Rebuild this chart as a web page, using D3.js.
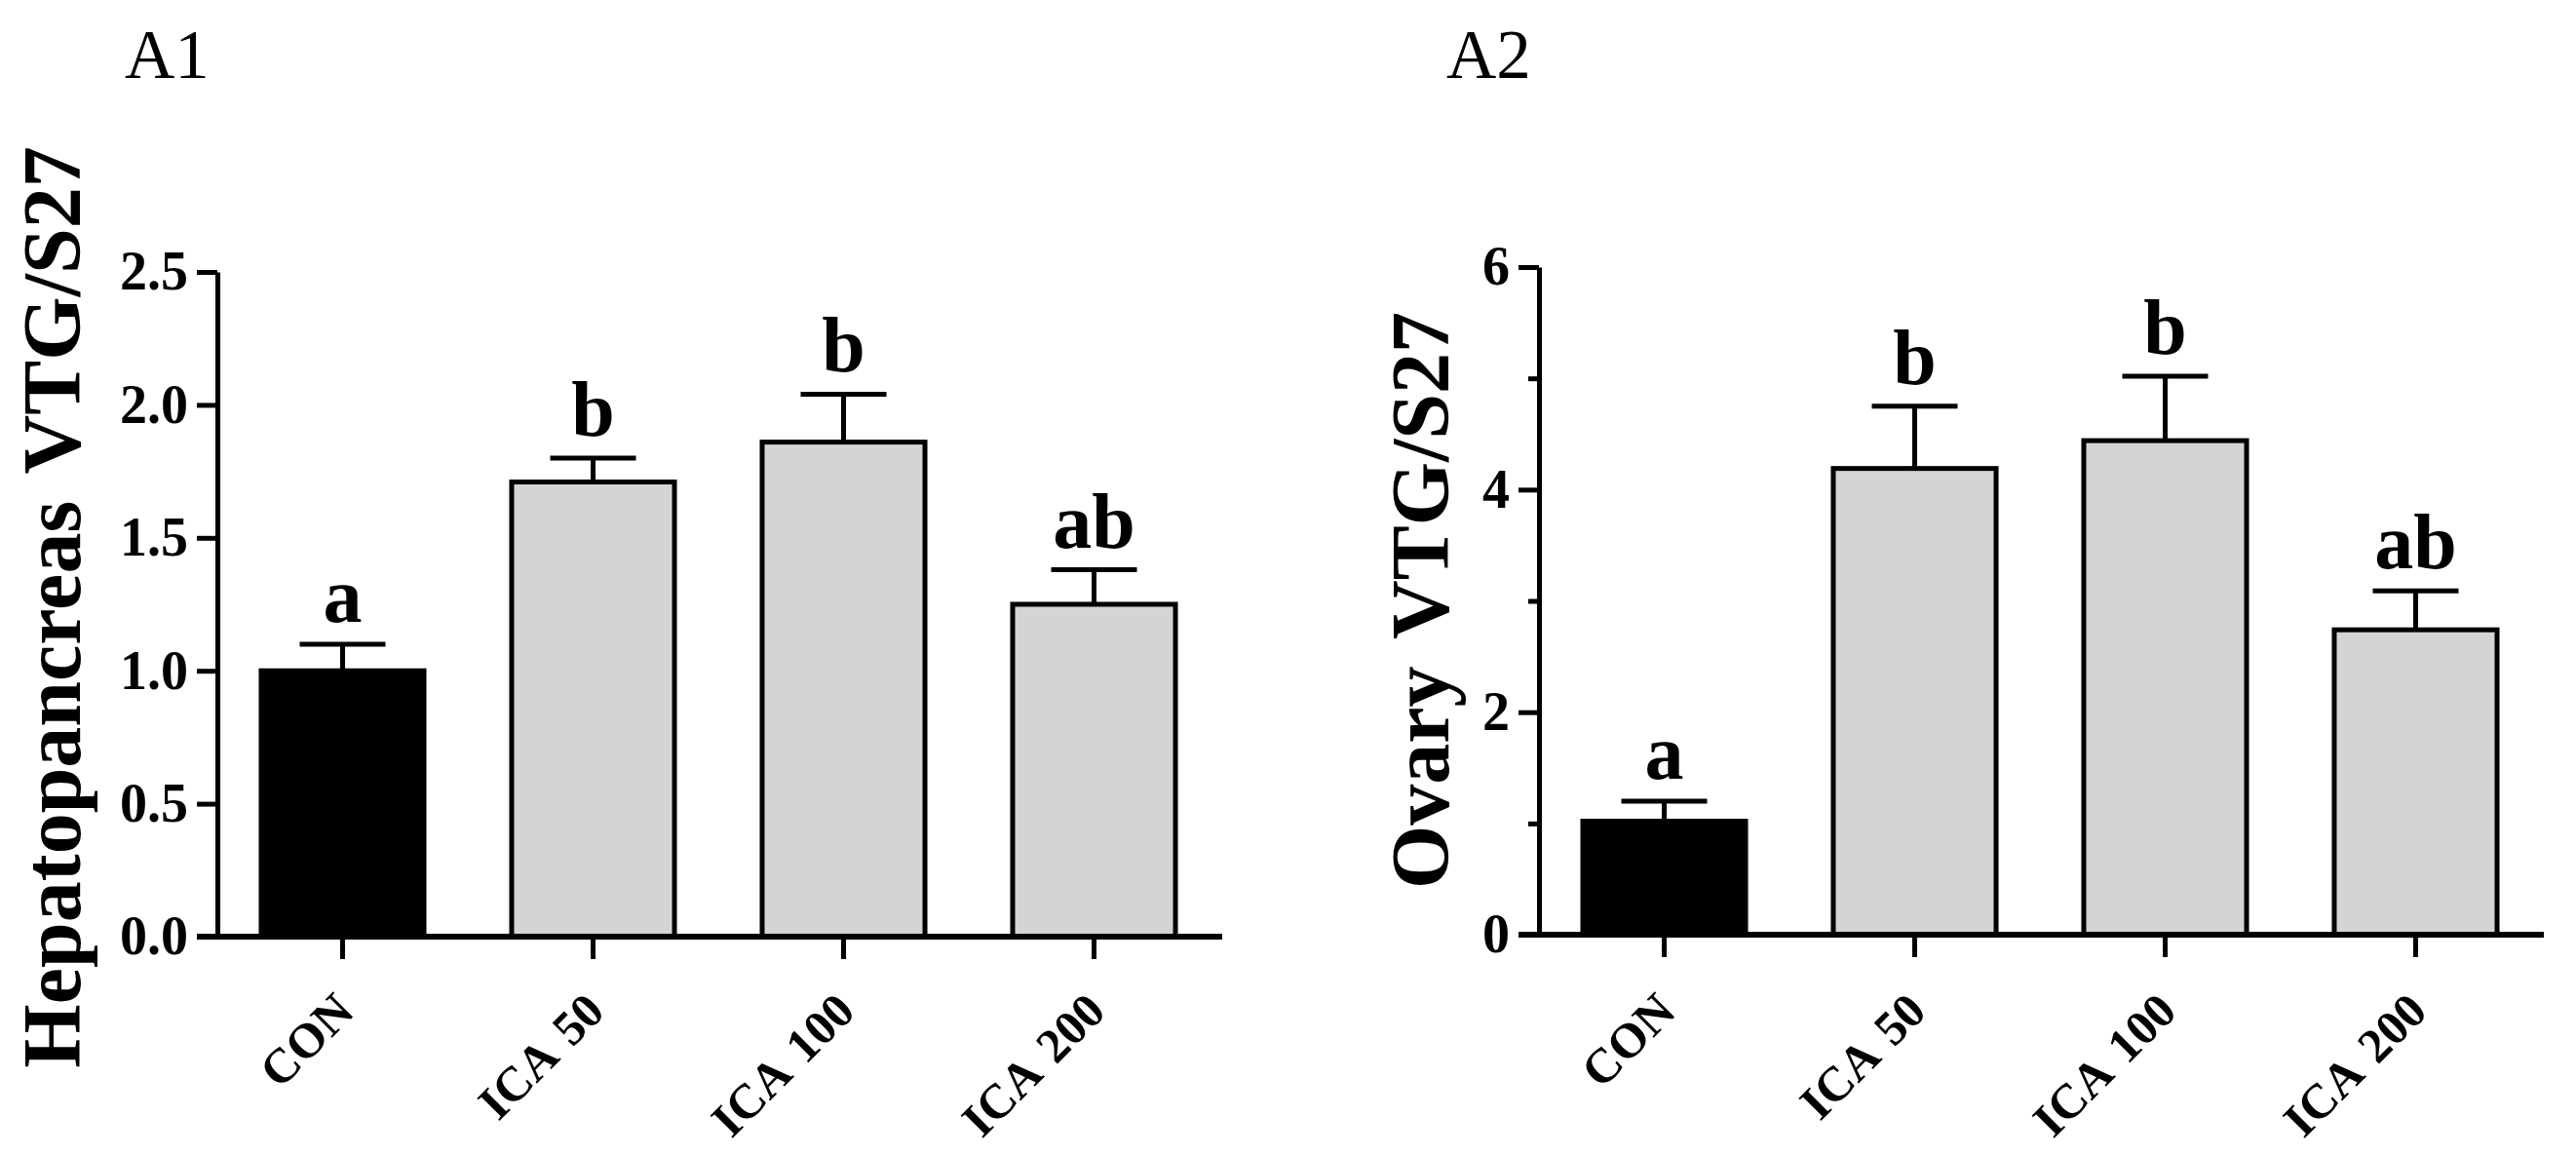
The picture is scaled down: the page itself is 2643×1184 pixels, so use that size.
<!DOCTYPE html>
<html>
<head>
<meta charset="utf-8">
<script src="https://cdnjs.cloudflare.com/ajax/libs/d3/7.8.5/d3.min.js"></script>
<style>
	body { margin: 0; background: #ffffff; }
	svg { display: block; }
</style>
</head>
<body>
<script>
	// groups shared by both panels
	var groups = [ "CON", "ICA 50", "ICA 100", "ICA 200" ];

	// A1 - hepatopancreas
	var hepatoMeans = [ 1.00, 1.71, 1.86, 1.25 ];
	var hepatoErrors = [ 0.10, 0.09, 0.18, 0.13 ];
	var hepatoLetters = [ "a", "b", "b", "ab" ];
	var hepatoTicks = [ 0, 0.5, 1.0, 1.5, 2.0, 2.5 ];

	// A2 - ovary
	var ovaryMeans = [ 1.02, 4.19, 4.44, 2.74 ];
	var ovaryErrors = [ 0.18, 0.56, 0.58, 0.35 ];
	var ovaryLetters = [ "a", "b", "b", "ab" ];
	var ovaryTicks = [ 0, 2, 4, 6 ];
	var ovaryMinorTicks = [ 1, 3, 5 ];

	var serif = "'Liberation Serif', 'Times New Roman', serif";
	var lineW = 5;

	var svg = d3.select("body").append("svg")//
	.attr("width", 2643)//
	.attr("height", 1184);

	drawPanel({
		label : "A1",
		labelX : 128,
		title : "Hepatopancreas VTG/S27",
		titleX : 82,
		titleY : 623,
		axisX : 223,
		axisEnd : 1251,
		yBottom : 961,
		yTop : 279,
		yMax : 2.5,
		ticks : hepatoTicks,
		minorTicks : [],
		format : d3.format(".1f"),
		means : hepatoMeans,
		errors : hepatoErrors,
		letters : hepatoLetters
	});

	drawPanel({
		label : "A2",
		labelX : 1484,
		title : "Ovary VTG/S27",
		titleX : 1486,
		titleY : 616,
		axisX : 1579,
		axisEnd : 2607,
		yBottom : 959,
		yTop : 274,
		yMax : 6,
		ticks : ovaryTicks,
		minorTicks : ovaryMinorTicks,
		format : d3.format("d"),
		means : ovaryMeans,
		errors : ovaryErrors,
		letters : ovaryLetters
	});

	function drawPanel(p) {
		var g = svg.append("g");

		var x = d3.scaleBand()//
		.domain(groups)//
		.range([ p.axisX, p.axisEnd ])//
		.paddingInner(0.35)//
		.paddingOuter(0.175);

		var y = d3.scaleLinear()//
		.domain([ 0, p.yMax ])//
		.range([ p.yBottom, p.yTop ]);

		var rows = groups.map(function(d, i) {
			return {
				group : d,
				mean : p.means[i],
				err : p.errors[i],
				letter : p.letters[i]
			};
		});

		// panel letter
		g.append("text")//
		.attr("x", p.labelX)//
		.attr("y", 80)//
		.attr("font-family", serif)//
		.attr("font-size", "71px")//
		.attr("fill", "#000")//
		.text(p.label);

		// y title
		g.append("text")//
		.attr("transform", "translate(" + p.titleX + "," + p.titleY + ") rotate(-90)")//
		.attr("text-anchor", "middle")//
		.attr("font-family", serif)//
		.attr("font-weight", "bold")//
		.attr("font-size", "84px")//
		.attr("word-spacing", "8px")//
		.attr("fill", "#000")//
		.text(p.title);

		// bars
		g.selectAll(".bar").data(rows).enter().append("rect")//
		.attr("class", "bar")//
		.attr("x", function(d) {
			return x(d.group);
		})//
		.attr("width", x.bandwidth())//
		.attr("y", function(d) {
			return y(d.mean);
		})//
		.attr("height", function(d) {
			return y(0) - y(d.mean);
		})//
		.attr("fill", function(d, i) {
			return i == 0 ? "#000000" : "#d4d4d4";
		})//
		.attr("stroke", "#000")//
		.attr("stroke-width", lineW);

		// error bars
		var cap = 44;
		g.selectAll(".err").data(rows).enter().append("path")//
		.attr("class", "err")//
		.attr("fill", "none")//
		.attr("stroke", "#000")//
		.attr("stroke-width", lineW)//
		.attr("d", function(d) {
			var cx = x(d.group) + x.bandwidth() / 2;
			var top = y(d.mean + d.err);
			return "M" + cx + "," + y(d.mean) + "V" + top + "M" + (cx - cap) + "," + top + "H" + (cx + cap);
		});

		// significance letters
		g.selectAll(".sig").data(rows).enter().append("text")//
		.attr("class", "sig")//
		.attr("x", function(d) {
			return x(d.group) + x.bandwidth() / 2;
		})//
		.attr("y", function(d) {
			return y(d.mean + d.err) - 23;
		})//
		.attr("text-anchor", "middle")//
		.attr("font-family", serif)//
		.attr("font-weight", "bold")//
		.attr("font-size", "80px")//
		.attr("fill", "#000")//
		.text(function(d) {
			return d.letter;
		});

		// y axis
		var yAxis = g.append("g")//
		.attr("transform", "translate(" + p.axisX + ",0)")//
		.call(d3.axisLeft(y).tickValues(p.ticks).tickFormat(p.format).tickSize(21).tickSizeOuter(0).tickPadding(9));
		styleAxis(yAxis);
		yAxis.selectAll("text")//
		.attr("font-size", "56px");

		if (p.minorTicks.length) {
			var minor = g.append("g")//
			.attr("transform", "translate(" + p.axisX + ",0)")//
			.call(d3.axisLeft(y).tickValues(p.minorTicks).tickFormat("").tickSize(11).tickSizeOuter(0));
			styleAxis(minor);
			minor.select(".domain").remove();
		}

		// x axis
		var xAxis = g.append("g")//
		.attr("transform", "translate(0," + y(0) + ")")//
		.call(d3.axisBottom(x).tickSize(23).tickSizeOuter(0).tickFormat(""));
		styleAxis(xAxis);
		xAxis.select(".domain").remove();

		g.append("line")//
		.attr("x1", p.axisX - 21)//
		.attr("x2", p.axisEnd + 3)//
		.attr("y1", y(0))//
		.attr("y2", y(0))//
		.attr("stroke", "#000")//
		.attr("stroke-width", 6);

		// rotated category labels
		g.selectAll(".cat").data(groups).enter().append("text")//
		.attr("class", "cat")//
		.attr("transform", function(d) {
			var cx = x(d) + x.bandwidth() / 2 + 14;
			return "translate(" + cx + ",1040) rotate(-45)";
		})//
		.attr("text-anchor", "end")//
		.attr("font-family", serif)//
		.attr("font-weight", "bold")//
		.attr("font-size", "50px")//
		.attr("word-spacing", "6px")//
		.attr("fill", "#000")//
		.text(function(d) {
			return d;
		});
	}

	function styleAxis(sel) {
		sel.select(".domain")//
		.attr("stroke", "#000")//
		.attr("stroke-width", lineW);
		sel.selectAll(".tick line")//
		.attr("stroke", "#000")//
		.attr("stroke-width", lineW);
		sel.selectAll("text")//
		.attr("font-family", serif)//
		.attr("font-weight", "bold")//
		.attr("fill", "#000");
	}
</script>
</body>
</html>
